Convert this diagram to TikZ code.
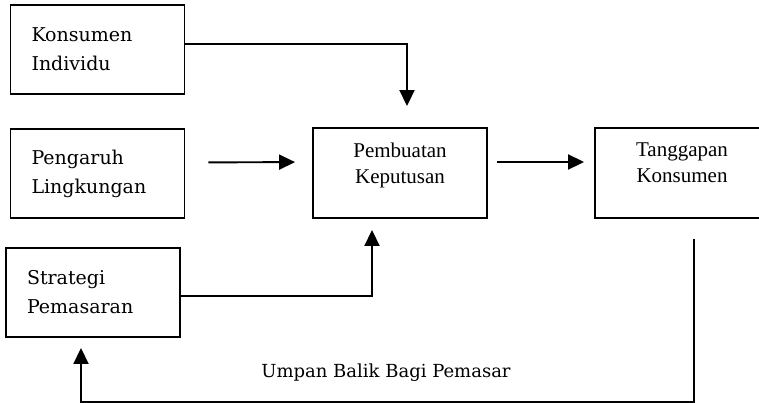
\documentclass[tikz,border=0pt]{standalone}
\usepackage{fontspec}
\setmainfont{Liberation Serif}
\newfontfamily\sidefont{DejaVu Serif}
\usetikzlibrary{arrows.meta}

\begin{document}
\begin{tikzpicture}[x=1pt,y=-1pt,line width=1.9pt,
    >={Triangle[length=16pt,width=15pt]},
    sidebox/.style={draw,minimum width=174pt,minimum height=89pt,
      text width=132pt,align=left,font=\sidefont\fontsize{19}{29}\selectfont},
    midbox/.style={draw,minimum width=174pt,minimum height=90pt,
      align=center,text depth=20pt,font=\fontsize{21}{26}\selectfont}]
    \useasboundingbox (0,0) rectangle (759,402);% page frame

    \node[sidebox] (konsumen) at (97.5,49.5) {Konsumen\\Individu};
    \node[sidebox] (pengaruh) at (97.5,173.5) {Pengaruh\\Lingkungan};
    \node[sidebox] (strategi) at (93,292.5) {Strategi\\Pemasaran};
    \node[midbox] (keputusan) at (400,173) {Pembuatan\\Keputusan};
    \node[midbox] (tanggapan) at (682,173) {Tanggapan\\Konsumen};

    \draw[->] ([yshift=5.5pt]konsumen.east) -| ([xshift=7pt,yshift=21pt]keputusan.north);
    \draw[->,shorten <=23pt,shorten >=17pt] ([yshift=11pt]pengaruh.east) -- ([yshift=11pt]keputusan.west);
    \draw[->,shorten <=9pt,shorten >=10pt] ([yshift=11pt]keputusan.east) -- ([yshift=11pt]tanggapan.west);
    \draw[->] ([yshift=-3.5pt]strategi.east) -| ([xshift=-28pt,yshift=-11pt]keputusan.south);

    % feedback loop back to the strategy box
    \draw[->] ([xshift=12pt,yshift=-20pt]tanggapan.south) -- ++(0,163)
      -| ([xshift=-12pt,yshift=-10pt]strategi.south);
    \node[font=\sidefont\fontsize{18}{22}\selectfont] (umpan) at (386,373) {Umpan Balik Bagi Pemasar};
\end{tikzpicture}
\end{document}
